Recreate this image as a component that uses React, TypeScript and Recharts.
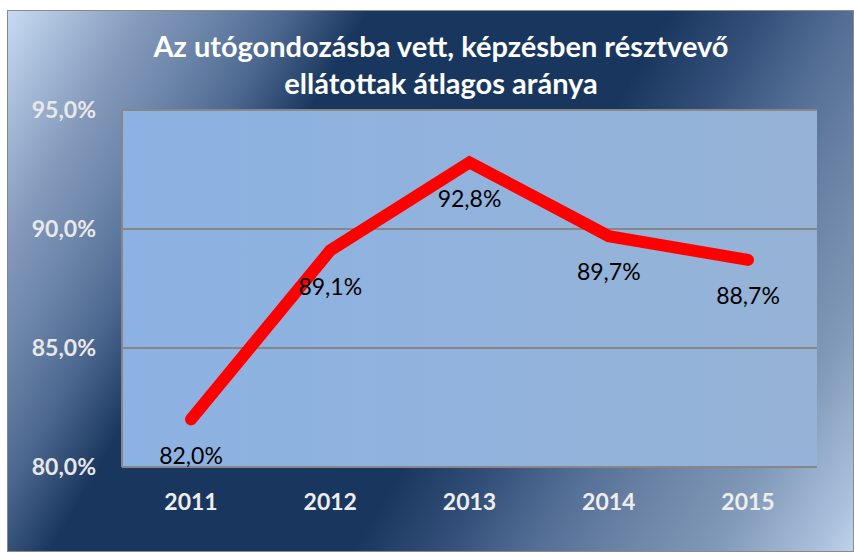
import { CartesianGrid, LabelList, Line, LineChart, XAxis, YAxis } from "recharts";

const years = ["2011", "2012", "2013", "2014", "2015"];
const shares = [82.0, 89.1, 92.8, 89.7, 88.7];
const yTicks = [80, 85, 90, 95];
const titleLines = ["Az utógondozásba vett, képzésben résztvevő", "ellátottak átlagos aránya"];

const data = years.map((year, i) => ({ year, share: shares[i] }));

const pct = (v: number) => `${v.toFixed(1).replace(".", ",")}%`;
const font = "Lato, 'Open Sans', sans-serif";
const gridGray = "#878787";

// light corners, dark navy band running diagonally through the middle
const chartBg =
  "linear-gradient(120.5deg, #c8dbf3 0%, #a4b9d6 6%, #8399bb 12%, #6a84a8 18%, #4d6890 24%, #19375e 31%, #19375e 57%, #34507a 65%, #526d94 72%, #6c84a6 80%, #8099b8 88%, #abc0dd 97%, #c0d3ec 100%)";

export default function App() {
  return (
    <div
      style={{
        position: "absolute",
        left: 7,
        top: 10,
        width: 847,
        height: 542,
        boxSizing: "border-box",
        border: "1px solid #8a8a8a",
        background: chartBg,
        fontFamily: font,
      }}
    >
      <div
        style={{
          position: "absolute",
          left: 433,
          top: 16,
          transform: "translateX(-50%)",
          whiteSpace: "nowrap",
          textAlign: "center",
          color: "#ffffff",
          fontWeight: 700,
          fontSize: 29,
          lineHeight: "37px",
        }}
      >
        {titleLines.map((line) => (
          <div key={line}>{line}</div>
        ))}
      </div>
      <LineChart
        width={845}
        height={540}
        data={data}
        margin={{ top: 99, right: 36, bottom: 0, left: 0 }}
        style={{ position: "absolute", left: 0, top: 0 }}
      >
        <defs>
          <linearGradient id="plotFill" x1="0" y1="0" x2="1" y2="0">
            <stop offset="0%" stopColor="#8cb2e3" />
            <stop offset="100%" stopColor="#96b3d6" />
          </linearGradient>
        </defs>
        <CartesianGrid
          vertical={false}
          stroke={gridGray}
          strokeWidth={2}
          fill="url(#plotFill)"
          fillOpacity={1}
        />
        <XAxis
          dataKey="year"
          height={84}
          padding={{ left: 69, right: 69 }}
          tickLine={false}
          tickSize={0}
          tickMargin={27}
          axisLine={{ stroke: gridGray, strokeWidth: 2 }}
          tick={{ fill: "#eeeeee", fontSize: 23, fontWeight: 700, fontFamily: font }}
        />
        <YAxis
          width={114}
          domain={[80, 95]}
          ticks={yTicks}
          interval={0}
          tickLine={false}
          tickSize={0}
          tickMargin={26}
          tickFormatter={pct}
          axisLine={{ stroke: gridGray, strokeWidth: 2 }}
          tick={{ fill: "#e8e8e8", fontSize: 23, fontWeight: 700, fontFamily: font }}
        />
        <YAxis
          yAxisId="right"
          orientation="right"
          width={0}
          domain={[80, 95]}
          tick={false}
          tickLine={false}
          axisLine={{ stroke: gridGray, strokeWidth: 2 }}
        />
        <Line
          type="linear"
          dataKey="share"
          stroke="#ff0000"
          strokeWidth={12}
          strokeLinecap="round"
          dot={false}
          activeDot={false}
          isAnimationActive={false}
        >
          <LabelList
            dataKey="share"
            position="bottom"
            offset={28}
            formatter={(v: unknown) => pct(Number(v))}
            fill="#000000"
            fontSize={23}
            fontFamily={font}
          />
        </Line>
      </LineChart>
    </div>
  );
}
